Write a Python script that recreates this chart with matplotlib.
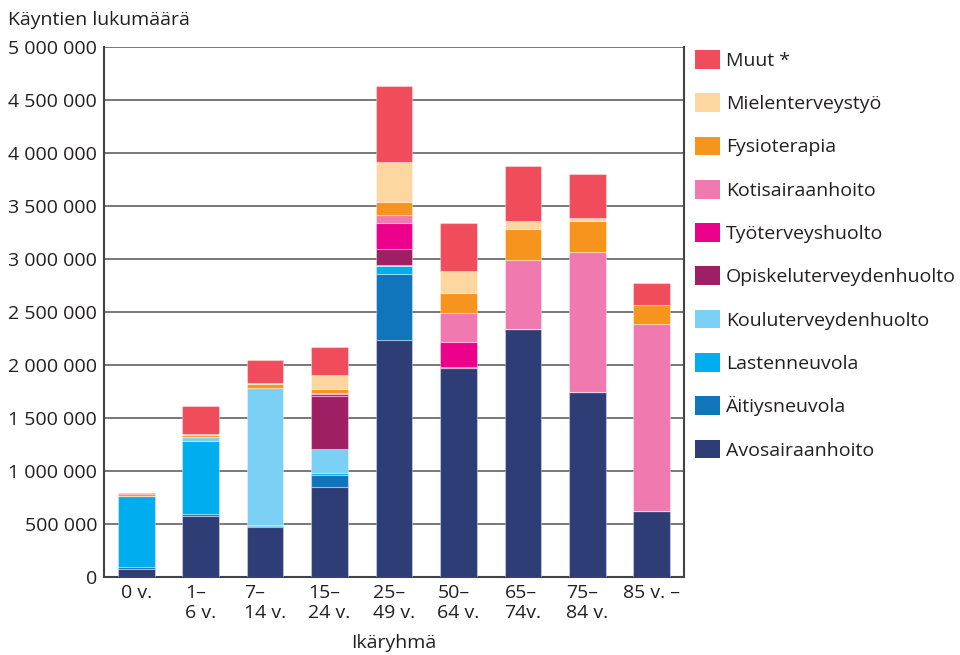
import matplotlib.pyplot as plt
import numpy as np
from matplotlib.patches import Patch
from matplotlib.ticker import FuncFormatter

plt.rcParams['font.family'] = ['Open Sans', 'DejaVu Sans']

groups = ["0 v.", "1–\n6 v.", "7–\n14 v.", "15–\n24 v.", "25–\n49 v.",
          "50–\n64 v.", "65–\n74v.", "75–\n84 v.", "85 v. –"]

# bottom to top
series = ["Avosairaanhoito", "Äitiysneuvola", "Lastenneuvola", "Kouluterveydenhuolto",
          "Opiskeluterveydenhuolto", "Työterveyshuolto", "Kotisairaanhoito",
          "Fysioterapia", "Mielenterveystyö", "Muut *"]

avosairaanhoito   = [78000, 578000, 475000, 852000, 2233000, 1969000, 2340000, 1742000, 623000]
aitiysneuvola     = [12000, 12000, 5000, 113000, 623000, 0, 0, 0, 0]
lastenneuvola     = [675000, 692000, 12000, 12000, 79000, 0, 0, 0, 0]
kouluterveys      = [0, 41000, 1287000, 229000, 9000, 0, 0, 0, 0]
opiskeluterveys   = [0, 0, 0, 503000, 148000, 8000, 0, 0, 0]
tyoterveys        = [0, 0, 0, 22000, 252000, 239000, 0, 0, 0]
kotisairaanhoito  = [0, 0, 0, 9000, 69000, 277000, 651000, 1327000, 1761000]
fysioterapia      = [22000, 20000, 38000, 31000, 123000, 189000, 292000, 292000, 179000]
mielenterveys     = [0, 10000, 15000, 132000, 377000, 208000, 75000, 22000, 0]
muut              = [10000, 258000, 212000, 267000, 723000, 447000, 519000, 415000, 214000]

values = [avosairaanhoito, aitiysneuvola, lastenneuvola, kouluterveys, opiskeluterveys,
          tyoterveys, kotisairaanhoito, fysioterapia, mielenterveys, muut]

colors = ["#2E3D76", "#1175BC", "#00AEEF", "#7BD0F5", "#9E1F63",
          "#EC008C", "#F07AB0", "#F7941E", "#FDD6A0", "#F04C5B"]

fig = plt.figure(figsize=(9.6, 6.55), dpi=100)
ax = fig.add_axes([0.1083, 0.1191, 0.6042, 0.8091])

x = np.arange(len(groups))
bottom = np.zeros(len(groups))
for name, vals, c in zip(series, values, colors):
    vals = np.array(vals, dtype=float)
    ax.bar(x, vals, 0.57, bottom=bottom, color=c, edgecolor=(1, 1, 1, 0.35),
           linewidth=0.8, zorder=3)
    bottom += vals

ax.set_xlim(-0.5, 8.5)
ax.set_ylim(0, 5000000)
ax.set_yticks(np.arange(0, 5000001, 500000))
ax.yaxis.set_major_formatter(FuncFormatter(lambda v, p: f"{int(v):,}".replace(",", " ")))
ax.set_xticks(x)
ax.set_xticklabels(groups, linespacing=1.12, multialignment="left")
ax.tick_params(length=0, labelsize=14, colors="#231f20", pad=5)

ax.grid(axis="y", color="#6d6d6d", linewidth=1.3, zorder=0)
for s in ["left", "bottom", "right"]:
    ax.spines[s].set_color("#444444")
    ax.spines[s].set_linewidth(1.5)
ax.spines["top"].set_visible(False)

fig.text(0.008, 0.969, "Käyntien lukumäärä", fontsize=14, color="#231f20", va="center")
ax.set_xlabel("Ikäryhmä", fontsize=14, color="#231f20", labelpad=9)

handles = [Patch(facecolor=c, label=n) for n, c in zip(series, colors)][::-1]
fig.legend(handles=handles, loc="upper left", bbox_to_anchor=(695 / 960, 1 - 50 / 655),
           frameon=False, fontsize=14, handlelength=1.3, handleheight=1.1,
           labelspacing=1.2, handletextpad=0.3, borderpad=0, borderaxespad=0,
           labelcolor="#231f20")

fig.savefig("out.png", dpi=100)
